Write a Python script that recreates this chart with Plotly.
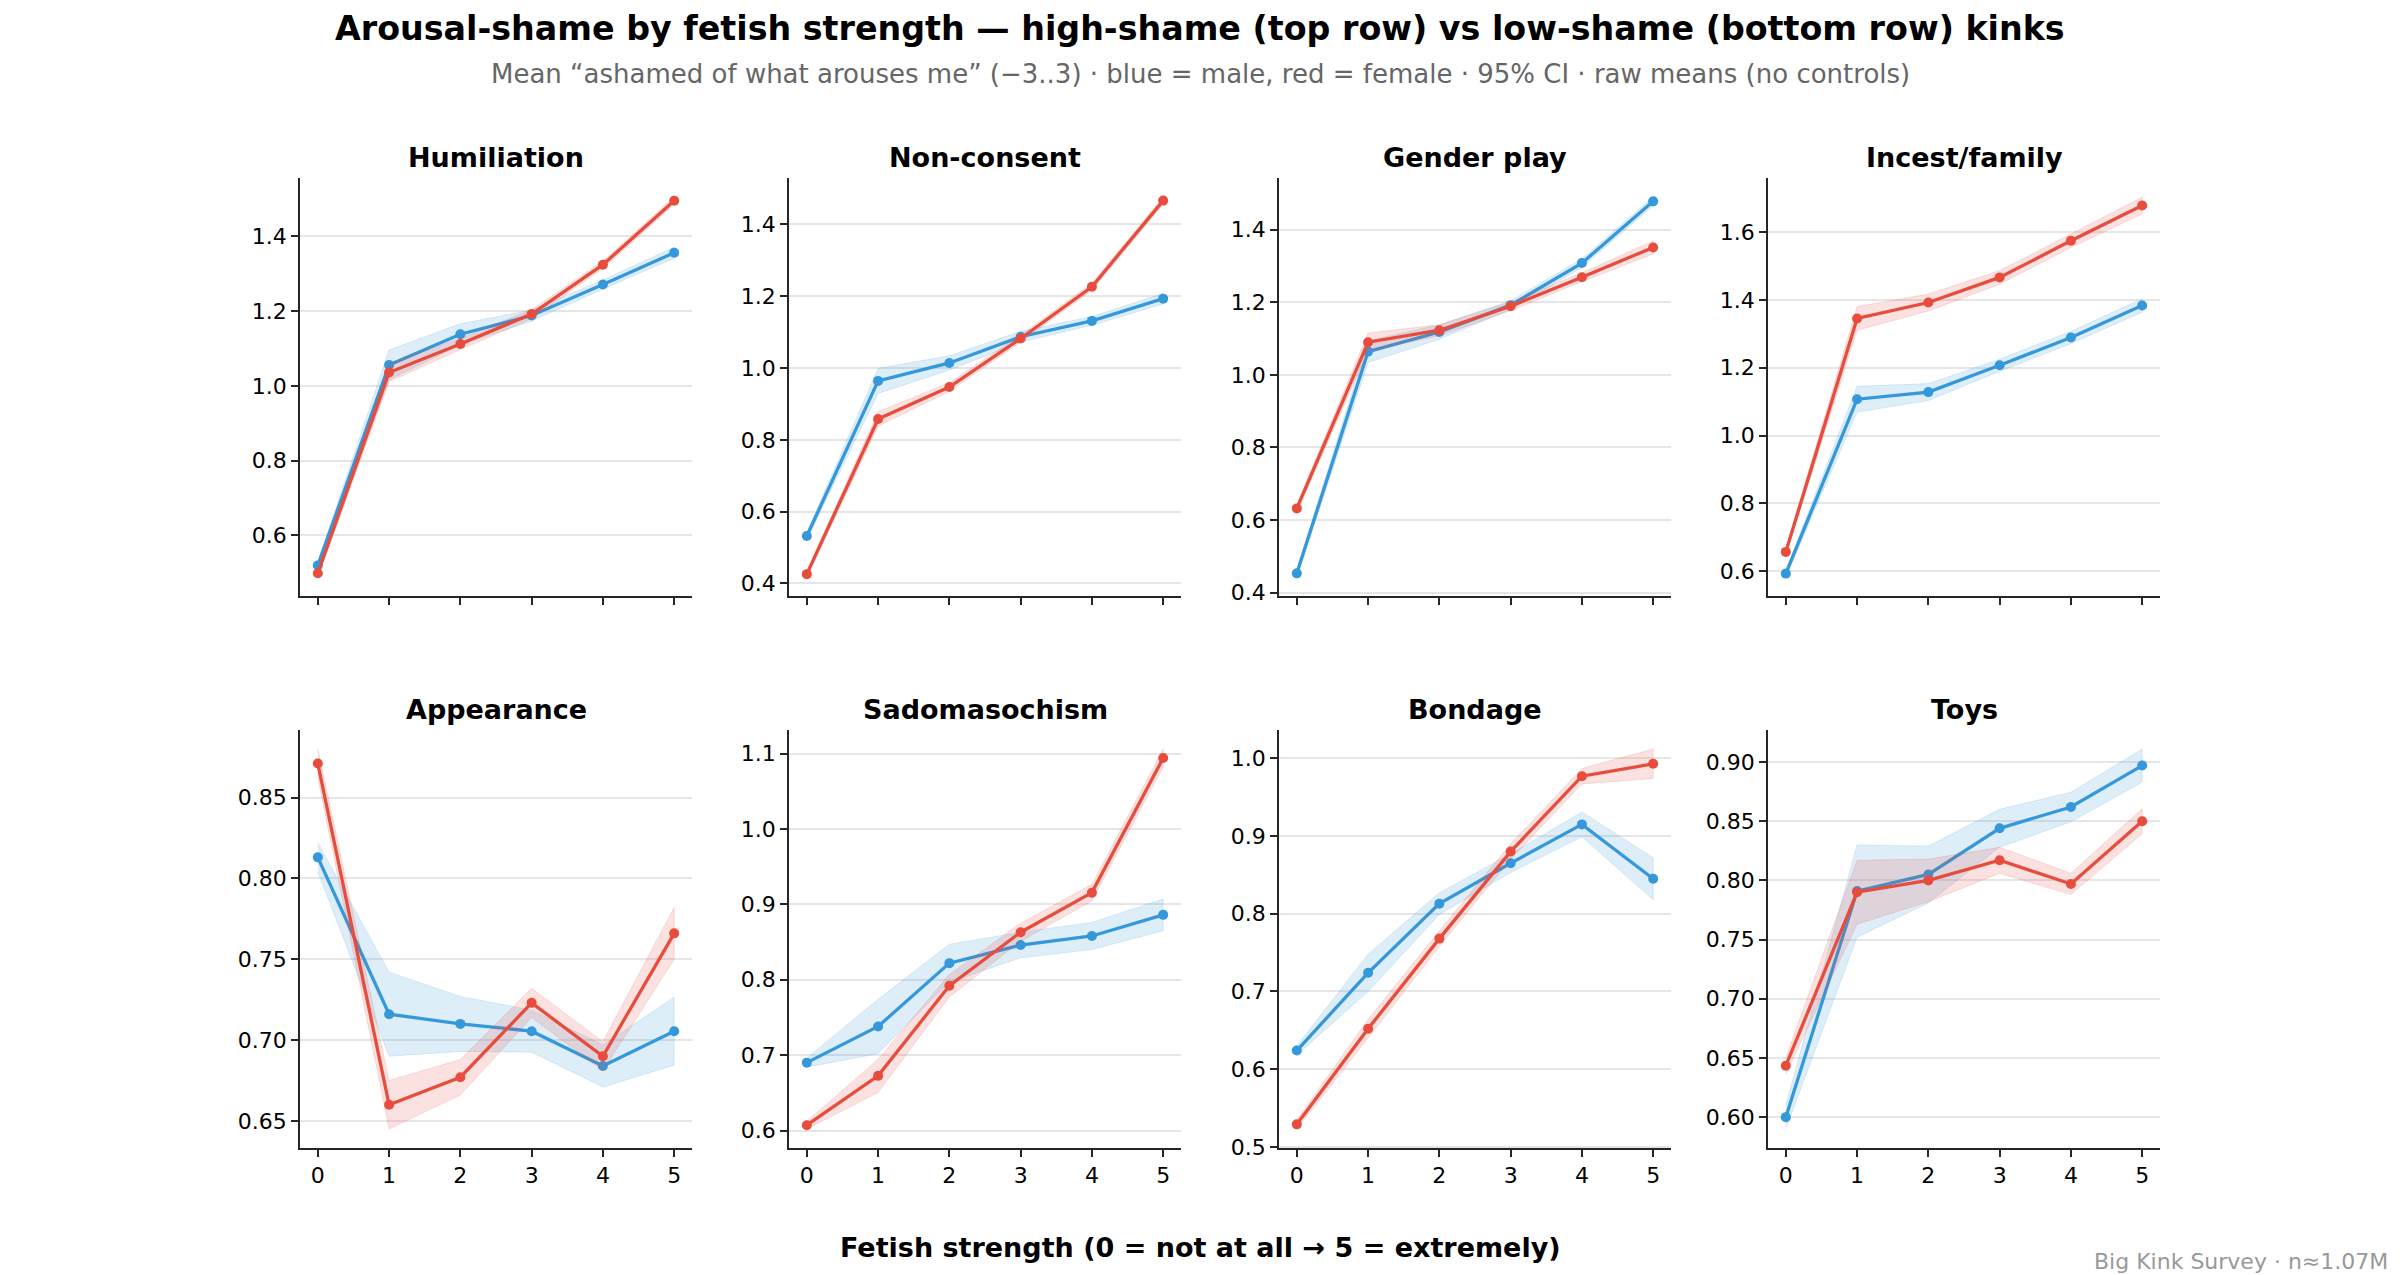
import plotly.graph_objects as go

# ---------------- data ----------------
strength = [0, 1, 2, 3, 4, 5]
kinks = ["Humiliation", "Non-consent", "Gender play", "Incest/family",
         "Appearance", "Sadomasochism", "Bondage", "Toys"]

male_mean = [
    [0.520, 1.056, 1.138, 1.188, 1.271, 1.356],
    [0.532, 0.964, 1.014, 1.087, 1.131, 1.193],
    [0.453, 1.064, 1.118, 1.192, 1.308, 1.478],
    [0.593, 1.107, 1.128, 1.207, 1.289, 1.383],
    [0.813, 0.716, 0.710, 0.7055, 0.684, 0.7055],
    [0.690, 0.738, 0.822, 0.846, 0.858, 0.886],
    [0.624, 0.724, 0.813, 0.865, 0.915, 0.845],
    [0.600, 0.791, 0.805, 0.844, 0.862, 0.897],
]
female_mean = [
    [0.499, 1.036, 1.112, 1.192, 1.324, 1.495],
    [0.426, 0.858, 0.947, 1.082, 1.226, 1.466],
    [0.632, 1.090, 1.123, 1.189, 1.269, 1.351],
    [0.657, 1.345, 1.392, 1.466, 1.574, 1.678],
    [0.871, 0.660, 0.677, 0.723, 0.690, 0.766],
    [0.607, 0.6725, 0.792, 0.863, 0.9155, 1.094],
    [0.529, 0.652, 0.768, 0.880, 0.977, 0.993],
    [0.6435, 0.790, 0.800, 0.817, 0.797, 0.850],
]
# half-width of 95% CI
male_ci = [
    [0.010, 0.040, 0.028, 0.015, 0.012, 0.015],
    [0.010, 0.035, 0.020, 0.015, 0.012, 0.015],
    [0.010, 0.030, 0.020, 0.012, 0.012, 0.012],
    [0.010, 0.038, 0.025, 0.018, 0.018, 0.020],
    [0.009, 0.026, 0.017, 0.013, 0.013, 0.021],
    [0.006, 0.036, 0.025, 0.017, 0.018, 0.021],
    [0.006, 0.024, 0.014, 0.012, 0.016, 0.027],
    [0.010, 0.039, 0.024, 0.016, 0.0125, 0.014],
]
female_ci = [
    [0.010, 0.025, 0.015, 0.012, 0.010, 0.010],
    [0.008, 0.020, 0.012, 0.010, 0.010, 0.010],
    [0.010, 0.025, 0.015, 0.012, 0.012, 0.018],
    [0.010, 0.035, 0.025, 0.020, 0.020, 0.025],
    [0.009, 0.015, 0.011, 0.009, 0.009, 0.016],
    [0.005, 0.022, 0.015, 0.012, 0.011, 0.012],
    [0.006, 0.012, 0.010, 0.010, 0.010, 0.019],
    [0.007, 0.027, 0.018, 0.011, 0.009, 0.0105],
]
y_dtick = [0.2, 0.2, 0.2, 0.2, 0.05, 0.1, 0.1, 0.05]
y_format = [".1f", ".1f", ".1f", ".1f", ".2f", ".1f", ".1f", ".2f"]

# ---------------- style ----------------
BLUE = "#3498db"
RED = "#e74c3c"
BLUE_FILL = "rgba(52,152,219,0.16)"
RED_FILL = "rgba(231,76,60,0.16)"
FONT = "DejaVu Sans"
AXC = "#262626"
TICK_SIZE = 22

W, H = 2400, 1275
col_px = [(300, 692), (789, 1181), (1279, 1671), (1768, 2160)]
row_px = [(178, 596), (730, 1148)]
title_px = [158, 709]

fig = go.Figure()
layout = dict(
    width=W, height=H,
    margin=dict(l=0, r=0, t=0, b=0, pad=0, autoexpand=False),
    paper_bgcolor="white", plot_bgcolor="white",
    showlegend=False,
    font=dict(family=FONT, color="black", size=TICK_SIZE),
)
annotations = []

for i, name in enumerate(kinks):
    r, c = divmod(i, 4)
    ax = "" if i == 0 else str(i + 1)
    xa, ya = "x" + ax, "y" + ax
    m, f, mc, fc = male_mean[i], female_mean[i], male_ci[i], female_ci[i]
    m_lo = [a - b for a, b in zip(m, mc)]
    m_hi = [a + b for a, b in zip(m, mc)]
    f_lo = [a - b for a, b in zip(f, fc)]
    f_hi = [a + b for a, b in zip(f, fc)]

    for lo, hi, mean, col, fill in [(m_lo, m_hi, m, BLUE, BLUE_FILL),
                                    (f_lo, f_hi, f, RED, RED_FILL)]:
        fig.add_trace(go.Scatter(
            x=strength + strength[::-1], y=hi + lo[::-1],
            fill="toself", fillcolor=fill, mode="lines",
            line=dict(color=fill, width=1), hoverinfo="skip",
            xaxis=xa, yaxis=ya))
        fig.add_trace(go.Scatter(
            x=strength, y=mean, mode="lines+markers",
            line=dict(color=col, width=3.3),
            marker=dict(color=col, size=10),
            xaxis=xa, yaxis=ya))

    lo_all = min(m_lo + f_lo)
    hi_all = max(m_hi + f_hi)
    pad = 0.05 * (hi_all - lo_all)

    x0, x1 = col_px[c]
    y0, y1 = row_px[r]
    layout["xaxis" + ax] = dict(
        domain=[x0 / W, x1 / W], anchor=ya, automargin=False,
        range=[-0.25, 5.25], tickvals=strength,
        showticklabels=(r == 1),
        showline=True, linecolor=AXC, linewidth=1.8,
        ticks="outside", ticklen=7, tickwidth=1.6, tickcolor=AXC,
        showgrid=False, zeroline=False,
        tickfont=dict(family=FONT, size=TICK_SIZE, color="black"),
    )
    layout["yaxis" + ax] = dict(
        domain=[1 - y1 / H, 1 - y0 / H], anchor=xa, automargin=False,
        range=[lo_all - pad, hi_all + pad],
        dtick=y_dtick[i], tick0=0, tickformat=y_format[i],
        showline=True, linecolor=AXC, linewidth=1.8,
        ticks="outside", ticklen=7, tickwidth=1.6, tickcolor=AXC,
        showgrid=True, gridcolor="#e6e6e6", gridwidth=1.5,
        zeroline=False,
        tickfont=dict(family=FONT, size=TICK_SIZE, color="black"),
    )
    annotations.append(dict(
        text="<b>%s</b>" % name, xref="paper", yref="paper",
        x=(x0 + x1) / 2 / W, y=1 - title_px[r] / H,
        xanchor="center", yanchor="middle", showarrow=False,
        font=dict(family=FONT, size=27, color="black")))

annotations += [
    dict(text="<b>Arousal-shame by fetish strength — high-shame (top row) vs low-shame (bottom row) kinks</b>",
         xref="paper", yref="paper", x=0.5, y=1 - 28 / H,
         xanchor="center", yanchor="middle", showarrow=False,
         font=dict(family=FONT, size=33.3, color="black")),
    dict(text="Mean “ashamed of what arouses me” (−3..3) · blue = male, red = female · 95% CI · raw means (no controls)",
         xref="paper", yref="paper", x=0.5, y=1 - 74 / H,
         xanchor="center", yanchor="middle", showarrow=False,
         font=dict(family=FONT, size=26, color="#666666")),
    dict(text="<b>Fetish strength (0 = not at all → 5 = extremely)</b>",
         xref="paper", yref="paper", x=0.5, y=1 - 1247 / H,
         xanchor="center", yanchor="middle", showarrow=False,
         font=dict(family=FONT, size=27, color="black")),
    dict(text="Big Kink Survey · n≈1.07M",
         xref="paper", yref="paper", x=2390 / W, y=1 - 1261 / H,
         xanchor="right", yanchor="middle", showarrow=False,
         font=dict(family=FONT, size=22, color="#999999")),
]
layout["annotations"] = annotations
fig.update_layout(**layout)
fig.write_html("out.html")
